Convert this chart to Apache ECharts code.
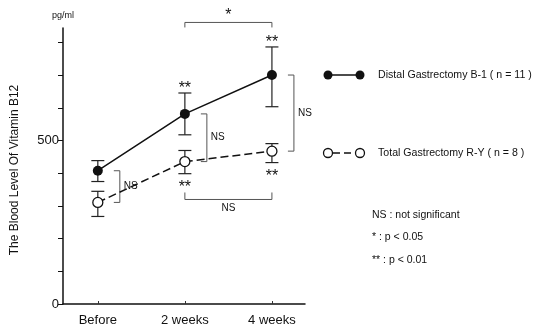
<!DOCTYPE html>
<html><head><meta charset="utf-8">
<script src="https://cdn.jsdelivr.net/npm/echarts@6/dist/echarts.min.js"></script>
<style>html,body{margin:0;padding:0;background:#fff}#c{width:535px;height:327px}</style>
</head><body><div id="c"></div>
<script>
const categories = ['Before', '2 weeks', '4 weeks'];
const timeIdx = [1, 2, 3];
const distalMean = [408, 582, 701];
const distalUpper = [439, 646, 787];
const distalLower = [375, 518, 604];
const totalMean = [311, 436, 468];
const totalUpper = [345, 470, 491];
const totalLower = [268, 399, 433];
const distalSig = ['', '**', '**'];
const totalSig = ['', '**', '**'];
const groupCompare = ['NS', 'NS', 'NS'];
const yLabelValues = [0, 500];
const distalName = 'Distal Gastrectomy B-1 ( n = 11 )';
const totalName = 'Total Gastrectomy R-Y ( n = 8 )';
const notes = ['NS : not significant', '* : p < 0.05', '** : p < 0.01'];
// between-time comparisons: [fromIdx, toIdx, level, label, direction]
const timeCompare = [[2, 3, 862, '*', 'down'], [2, 3, 320, 'NS', 'up']];

const FONT = '"Liberation Sans", Arial, sans-serif';
const chart = echarts.init(document.getElementById('c'));

const errData = [];
timeIdx.forEach((x, i) => {
  errData.push([x, distalLower[i], distalUpper[i]]);
  errData.push([x, totalLower[i], totalUpper[i]]);
});

function renderErr(params, api) {
  const lo = api.coord([api.value(0), api.value(1)]);
  const hi = api.coord([api.value(0), api.value(2)]);
  const w = 6.5;
  const st = { stroke: '#222', lineWidth: 1.2 };
  return { type: 'group', children: [
    { type: 'line', shape: { x1: lo[0], y1: lo[1], x2: hi[0], y2: hi[1] }, style: st },
    { type: 'line', shape: { x1: lo[0] - w, y1: lo[1], x2: lo[0] + w, y2: lo[1] }, style: st },
    { type: 'line', shape: { x1: hi[0] - w, y1: hi[1], x2: hi[0] + w, y2: hi[1] }, style: st }
  ]};
}

const sigData = timeIdx.map((x, i) => [x, distalUpper[i], totalLower[i]]);
function renderSig(params, api) {
  const i = params.dataIndex;
  const up = api.coord([timeIdx[i], distalUpper[i]]);
  const lo = api.coord([timeIdx[i], totalLower[i]]);
  const ch = [];
  const ts = { fill: '#111', font: '16px ' + FONT, align: 'center', verticalAlign: 'middle' };
  if (distalSig[i]) ch.push({ type: 'text', x: up[0], y: up[1] - 4, style: Object.assign({ text: distalSig[i] }, ts) });
  if (totalSig[i]) ch.push({ type: 'text', x: lo[0], y: lo[1] + 14, style: Object.assign({ text: totalSig[i] }, ts) });
  return { type: 'group', children: ch };
}

const brData = timeIdx.map((x, i) => [x, distalMean[i], totalMean[i]]);
function renderBracket(params, api) {
  const i = params.dataIndex;
  const a = api.coord([timeIdx[i], distalMean[i]]);
  const b = api.coord([timeIdx[i], totalMean[i]]);
  const x0 = a[0] + 16, x1 = a[0] + 22;
  const st = { stroke: '#555', lineWidth: 1, fill: null };
  return { type: 'group', children: [
    { type: 'polyline', shape: { points: [[x0, a[1]], [x1, a[1]], [x1, b[1]], [x0, b[1]]] }, style: st },
    { type: 'text', x: x1 + 3, y: (a[1] + b[1]) / 2, style: { text: groupCompare[i], fill: '#111', font: '10px ' + FONT, align: 'left', verticalAlign: 'middle', backgroundColor: '#fff', padding: [1, 1] } }
  ]};
}

function renderTimeCmp(params, api) {
  const c = timeCompare[params.dataIndex];
  const p0 = api.coord([c[0], c[2]]);
  const p1 = api.coord([c[1], c[2]]);
  const d = c[4] === 'down' ? 5 : -7;
  const st = { stroke: '#555', lineWidth: 1, fill: null };
  const mid = (p0[0] + p1[0]) / 2;
  const ty = c[4] === 'down' ? p0[1] - 7 : p0[1] + 9;
  return { type: 'group', children: [
    { type: 'polyline', shape: { points: [[p0[0], p0[1] + d], [p0[0], p0[1]], [p1[0], p1[1]], [p1[0], p1[1] + d]] }, style: st },
    { type: 'text', x: mid, y: ty, style: { text: c[3], fill: '#111', font: (c[3] === '*' ? '16px ' : '10px ') + FONT, align: 'center', verticalAlign: 'middle' } }
  ]};
}

const legendY = [75, 153];
const option = {
  animation: false,
  backgroundColor: '#fff',
  grid: { left: 63, right: 230, top: 28, bottom: 22 },
  xAxis: {
    type: 'value', min: 0.6, max: 3.38,
    axisLine: { lineStyle: { color: '#111', width: 1.5 } },
    axisTick: { show: true, inside: true, customValues: timeIdx, length: 3, lineStyle: { color: '#333' } },
    axisLabel: { customValues: timeIdx, formatter: v => categories[Math.round(v) - 1] || '', color: '#111', fontSize: 13, fontFamily: FONT, margin: 10 },
    splitLine: { show: false }
  },
  yAxis: {
    type: 'value', min: 0, max: 845, interval: 100,
    name: 'pg/ml', nameLocation: 'end', nameGap: 8,
    nameTextStyle: { fontSize: 9, color: '#111', fontFamily: FONT, align: 'center' },
    axisLine: { show: true, lineStyle: { color: '#111', width: 1.5 } },
    axisTick: { show: true, length: 5, lineStyle: { color: '#111' } },
    axisLabel: { formatter: v => yLabelValues.indexOf(v) >= 0 ? String(v) : '', color: '#111', fontSize: 13, fontFamily: FONT, margin: 4, showMaxLabel: false },
    splitLine: { show: false }
  },
  series: [
    { type: 'custom', renderItem: renderErr, data: errData, z: 1, silent: true },
    { type: 'line', name: totalName, data: timeIdx.map((x, i) => [x, totalMean[i]]), z: 3,
      symbol: 'circle', symbolSize: 10,
      lineStyle: { color: '#111', width: 1.5, type: [8, 4] },
      itemStyle: { color: '#fff', borderColor: '#111', borderWidth: 1.3 } },
    { type: 'line', name: distalName, data: timeIdx.map((x, i) => [x, distalMean[i]]), z: 4,
      symbol: 'circle', symbolSize: 10,
      lineStyle: { color: '#111', width: 1.5 },
      itemStyle: { color: '#111' } },
    { type: 'custom', renderItem: renderBracket, data: brData, z: 2, clip: false },
    { type: 'custom', renderItem: renderSig, data: sigData, z: 5, clip: false },
    { type: 'custom', renderItem: renderTimeCmp, data: timeCompare.map(c => [c[0], c[2]]), z: 5, clip: false }
  ],
  graphic: [
    { type: 'text', x: 15, y: 170, rotation: Math.PI / 2, style: { text: 'The Blood Level Of Vitamin B12', font: '12px ' + FONT, fill: '#111', align: 'center', verticalAlign: 'middle' } },
    { type: 'line', shape: { x1: 328, y1: legendY[0], x2: 360, y2: legendY[0] }, style: { stroke: '#111', lineWidth: 1.5 } },
    { type: 'circle', shape: { cx: 328, cy: legendY[0], r: 4.5 }, style: { fill: '#111' } },
    { type: 'circle', shape: { cx: 360, cy: legendY[0], r: 4.5 }, style: { fill: '#111' } },
    { type: 'text', x: 378, y: legendY[0], style: { text: distalName, font: '10.6px ' + FONT, fill: '#111', verticalAlign: 'middle' } },
    { type: 'line', shape: { x1: 333, y1: legendY[1], x2: 355, y2: legendY[1] }, style: { stroke: '#111', lineWidth: 1.5, lineDash: [7, 4] } },
    { type: 'circle', shape: { cx: 328, cy: legendY[1], r: 4.5 }, style: { fill: '#fff', stroke: '#111', lineWidth: 1.3 } },
    { type: 'circle', shape: { cx: 360, cy: legendY[1], r: 4.5 }, style: { fill: '#fff', stroke: '#111', lineWidth: 1.3 } },
    { type: 'text', x: 378, y: legendY[1], style: { text: totalName, font: '10.6px ' + FONT, fill: '#111', verticalAlign: 'middle' } },
    { type: 'text', x: 372, y: 215, style: { text: notes[0], font: '10.5px ' + FONT, fill: '#111', verticalAlign: 'middle' } },
    { type: 'text', x: 372, y: 237, style: { text: notes[1], font: '10.5px ' + FONT, fill: '#111', verticalAlign: 'middle' } },
    { type: 'text', x: 372, y: 260, style: { text: notes[2], font: '10.5px ' + FONT, fill: '#111', verticalAlign: 'middle' } }
  ]
};
chart.setOption(option);
</script></body></html>
